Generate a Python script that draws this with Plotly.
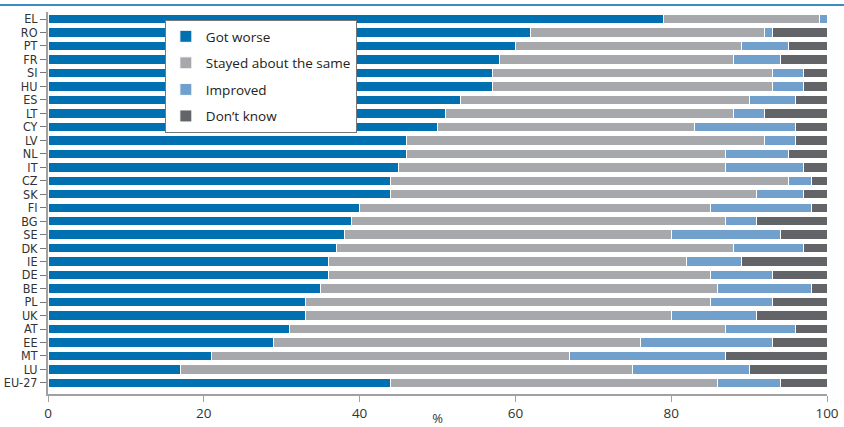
import plotly.graph_objects as go

countries = ["EL", "RO", "PT", "FR", "SI", "HU", "ES", "LT", "CY", "LV", "NL", "IT", "CZ", "SK",
             "FI", "BG", "SE", "DK", "IE", "DE", "BE", "PL", "UK", "AT", "EE", "MT", "LU", "EU-27"]

got_worse = [79, 62, 60, 58, 57, 57, 53, 51, 50, 46, 46, 45, 44, 44,
             40, 39, 38, 37, 36, 36, 35, 33, 33, 31, 29, 21, 17, 44]
stayed_same = [20, 30, 29, 30, 36, 36, 37, 37, 33, 46, 41, 42, 51, 47,
               45, 48, 42, 51, 46, 49, 51, 52, 47, 56, 47, 46, 58, 42]
improved = [1, 1, 6, 6, 4, 4, 6, 4, 13, 4, 8, 10, 3, 6,
            13, 4, 14, 9, 7, 8, 12, 8, 11, 9, 17, 20, 15, 8]
dont_know = [0, 7, 5, 6, 3, 3, 4, 8, 4, 4, 5, 3, 2, 3,
             2, 9, 6, 3, 11, 7, 2, 7, 9, 4, 7, 13, 10, 6]

series = [
    ("Got worse", got_worse, "#0070b0"),
    ("Stayed about the same", stayed_same, "#a7a8ab"),
    ("Improved", improved, "#72a0cc"),
    ("Don\u2019t know", dont_know, "#636467"),
]

fig = go.Figure()
for i, (name, vals, col) in enumerate(series):
    fig.add_trace(go.Bar(
        y=countries, x=vals, name=name, orientation="h",
        marker=dict(color=col, line=dict(color="white", width=1)),
        legendgroup=str(i),
    ))

fig.update_layout(
    barmode="stack",
    bargap=0.3,
    width=844, height=427,
    margin=dict(l=48, r=17, t=12, b=33),
    plot_bgcolor="white",
    paper_bgcolor="white",
    font=dict(family="Open Sans", color="#333333"),
    legend=dict(
        x=0.15, y=0.979, xanchor="left", yanchor="top",
        bgcolor="white", bordercolor="#777777", borderwidth=1,
        font=dict(size=13.5, color="#222222"),
        tracegroupgap=6,
    ),
    showlegend=True,
)
fig.update_xaxes(
    range=[0, 100], tickvals=[0, 20, 40, 60, 80, 100],
    showgrid=False, zeroline=False, automargin=False,
    showline=True, linecolor="#a0a0a0", linewidth=2,
    ticks="outside", ticklen=6, tickcolor="#a0a0a0",
    tickfont=dict(size=13.5, color="#333333"),
    title=dict(text="%", font=dict(size=13), standoff=12),
)
fig.update_yaxes(
    tickmode="array", tickvals=countries, ticktext=countries,
    categoryorder="array", categoryarray=countries,
    range=[27.82, -0.52], automargin=False,
    showgrid=False, zeroline=False,
    showline=True, linecolor="#a0a0a0", linewidth=2,
    ticks="outside", ticklen=6, tickcolor="#777777",
    tickfont=dict(family="DejaVu Sans Condensed, Roboto Condensed, Roboto", size=12.5, color="#333333"),
)

# thin blue rule under the (cropped) title
fig.add_shape(type="line", xref="paper", yref="paper", x0=-0.07, x1=1.03,
              y0=1.018, y1=1.018, line=dict(color="#3a8cc4", width=2))

# drop the browser's default body margin so the figure fills the window
fig.write_html("out.html", config={"displayModeBar": False},
               post_script="document.body.style.margin='0';")
